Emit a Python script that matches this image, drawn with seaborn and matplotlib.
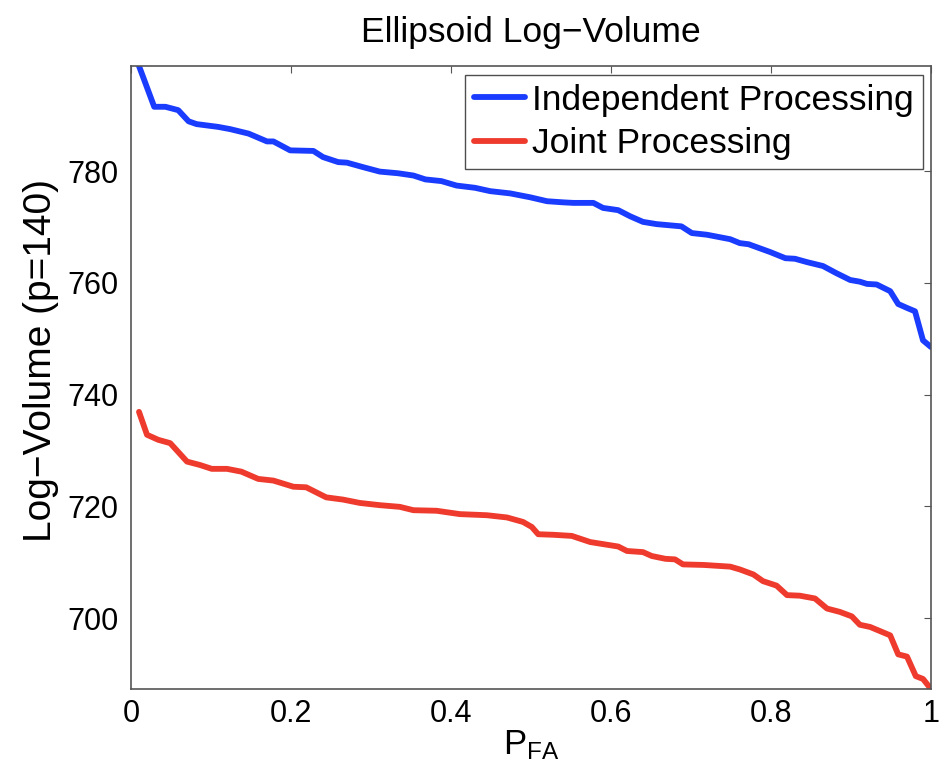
import numpy as np
import pandas as pd
import matplotlib
matplotlib.use("Agg")
import matplotlib.pyplot as plt
import seaborn as sns

# ---- data ----
x_indep = [0.010, 0.029, 0.043, 0.059, 0.072, 0.082, 0.109, 0.124, 0.147, 0.170,
           0.178, 0.199, 0.228, 0.240, 0.259, 0.270, 0.290, 0.311, 0.334, 0.353,
           0.368, 0.388, 0.407, 0.430, 0.449, 0.474, 0.499, 0.520, 0.540, 0.553,
           0.578, 0.590, 0.609, 0.624, 0.640, 0.657, 0.688, 0.701, 0.720, 0.749,
           0.761, 0.772, 0.799, 0.818, 0.830, 0.845, 0.865, 0.882, 0.899, 0.911,
           0.920, 0.932, 0.949, 0.959, 0.970, 0.980, 0.990, 1.000]
y_indep = [798.8, 791.5, 791.5, 790.9, 788.9, 788.4, 787.9, 787.5, 786.7, 785.3,
           785.3, 783.7, 783.6, 782.5, 781.6, 781.5, 780.7, 779.9, 779.6, 779.2,
           778.5, 778.2, 777.4, 777.0, 776.4, 776.0, 775.3, 774.6, 774.4, 774.3,
           774.3, 773.4, 773.0, 771.9, 770.9, 770.5, 770.1, 768.9, 768.6, 767.8,
           767.1, 766.9, 765.5, 764.4, 764.3, 763.7, 763.0, 761.7, 760.5, 760.2,
           759.8, 759.7, 758.5, 756.2, 755.5, 754.9, 749.7, 748.5]

x_joint = [0.010, 0.020, 0.034, 0.049, 0.070, 0.086, 0.101, 0.120, 0.138, 0.159,
           0.178, 0.203, 0.219, 0.244, 0.265, 0.286, 0.311, 0.336, 0.353, 0.382,
           0.411, 0.445, 0.470, 0.490, 0.501, 0.509, 0.528, 0.551, 0.574, 0.609,
           0.620, 0.640, 0.651, 0.668, 0.680, 0.690, 0.716, 0.749, 0.761, 0.778,
           0.790, 0.807, 0.820, 0.836, 0.855, 0.870, 0.886, 0.901, 0.911, 0.924,
           0.949, 0.959, 0.970, 0.981, 0.990, 1.000]
y_joint = [736.9, 732.8, 731.9, 731.3, 728.0, 727.4, 726.7, 726.7, 726.2, 724.9,
           724.6, 723.5, 723.4, 721.6, 721.2, 720.6, 720.2, 719.9, 719.3, 719.2,
           718.6, 718.4, 718.0, 717.2, 716.3, 715.0, 714.9, 714.7, 713.6, 712.8,
           712.0, 711.8, 711.1, 710.6, 710.5, 709.6, 709.5, 709.2, 708.7, 707.8,
           706.6, 705.8, 704.1, 704.0, 703.5, 701.7, 701.1, 700.3, 698.8, 698.4,
           696.9, 693.5, 693.1, 689.6, 689.1, 687.3]

series_names = ["Independent Processing", "Joint Processing"]
x_ticks = [0, 0.2, 0.4, 0.6, 0.8, 1]
x_tick_labels = ["0", "0.2", "0.4", "0.6", "0.8", "1"]
y_ticks = [700, 720, 740, 760, 780]

df = pd.concat([
    pd.DataFrame({"P_FA": x_indep, "LogVol": y_indep, "series": series_names[0]}),
    pd.DataFrame({"P_FA": x_joint, "LogVol": y_joint, "series": series_names[1]}),
], ignore_index=True)

sns.set_theme(style="white")
plt.rcParams["font.family"] = ["Liberation Sans", "DejaVu Sans"]
plt.rcParams["mathtext.fontset"] = "custom"
plt.rcParams["mathtext.rm"] = "Liberation Sans"
plt.rcParams["mathtext.it"] = "Liberation Sans"
plt.rcParams["text.color"] = "black"
plt.rcParams["axes.labelcolor"] = "black"

fig = plt.figure(figsize=(9.46, 7.79), dpi=100)
ax = fig.add_axes([131/946, 1 - 689/779, 800/946, 623/779])

palette = {series_names[0]: "#1a3cff", series_names[1]: "#ee3b2e"}
sns.lineplot(data=df, x="P_FA", y="LogVol", hue="series", palette=palette,
             estimator=None, sort=True, linewidth=4.2, ax=ax)

ax.set_xlim(0, 1)
ax.set_ylim(687.3, 798.8)
ax.set_xticks(x_ticks)
ax.set_xticklabels(x_tick_labels)
ax.set_yticks(y_ticks)
ax.tick_params(direction="in", length=5, width=0.8, color="#555555",
               top=True, right=True, labelsize=22, labelcolor="black")
ax.tick_params(axis="x", pad=7)
ax.tick_params(axis="y", pad=9)
for s in ax.spines.values():
    s.set_color("#555555")
    s.set_linewidth(1.2)

ax.set_title("Ellipsoid Log\u2212Volume", fontsize=25.5, pad=17, color="black")
ax.set_xlabel(r"P$_{\mathrm{FA}}$", fontsize=25, labelpad=0)
ax.set_ylabel("Log\u2212Volume (p=140)", fontsize=28, labelpad=6, y=0.527)

leg = ax.legend(loc="upper right", bbox_to_anchor=(1 - 8/800, 1 - 9/623),
                borderaxespad=0, fontsize=25.5, frameon=True, fancybox=False,
                handlelength=1.45, handletextpad=0.2, labelspacing=0.3,
                borderpad=0.25)
leg.get_frame().set_edgecolor("#222222")
leg.get_frame().set_linewidth(1.0)
for line in leg.get_lines():
    line.set_linewidth(4.2)

fig.savefig("out.png", dpi=100)
